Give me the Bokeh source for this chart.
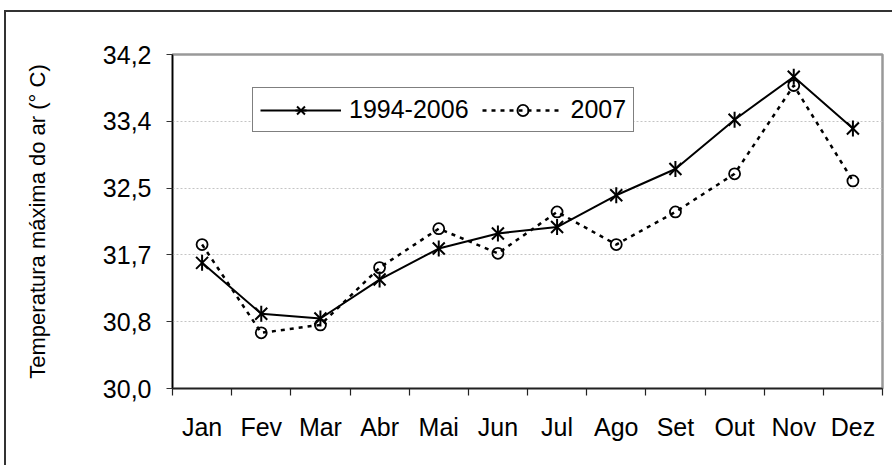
import math
from bokeh.plotting import figure
from bokeh.models import Range1d, FixedTicker, CustomJSTickFormatter
from bokeh.embed import file_html
from bokeh.resources import INLINE

months = ["Jan", "Fev", "Mar", "Abr", "Mai", "Jun", "Jul", "Ago", "Set", "Out", "Nov", "Dez"]
normal_1994_2006 = [31.58, 30.94, 30.88, 31.37, 31.76, 31.95, 32.03, 32.43, 32.76, 33.38, 33.92, 33.27]
year_2007 = [31.81, 30.70, 30.80, 31.52, 32.01, 31.70, 32.22, 31.81, 32.22, 32.70, 33.81, 32.61]
y_ticks = [30.0, 30.84, 31.68, 32.52, 33.36, 34.2]
y_label = "Temperatura máxima do ar (° C)"

x_pos = list(range(1, len(months) + 1))
x_bounds = [i - 0.5 for i in x_pos] + [len(months) + 0.5]

FONT = "Liberation Sans"

p = figure(width=888, height=455,
           x_range=Range1d(0.5, len(months) + 0.5),
           y_range=Range1d(y_ticks[0], y_ticks[-1]),
           output_backend="svg", toolbar_location=None,
           min_border_left=166, min_border_right=12,
           min_border_top=42, min_border_bottom=79)
p.styles = {"box-shadow": "-2px -2px 0px 0px #333333",
            "margin-top": "12px", "margin-left": "6px"}

p.background_fill_color = "white"
p.border_fill_color = "white"
p.outline_line_color = "#999999"
p.outline_line_width = 2.5

# grid
p.xgrid.visible = False
p.ygrid.grid_line_color = "#c4c4c4"
p.ygrid.grid_line_dash = "2 2"
p.ygrid.grid_line_width = 1

# x axis
xa = p.below[0]
xa.ticker = FixedTicker(ticks=x_pos, minor_ticks=x_bounds)
xa.major_label_overrides = dict(zip(x_pos, months))
xa.major_tick_line_color = None
xa.major_tick_out = 0
xa.major_tick_in = 0
xa.minor_tick_out = 7
xa.minor_tick_in = 0
xa.minor_tick_line_color = "#222222"
xa.minor_tick_line_width = 1.2
xa.axis_line_color = "#222222"
xa.axis_line_width = 1.5
xa.major_label_standoff = 17
xa.major_label_text_font = FONT
xa.major_label_text_font_size = "25px"
xa.major_label_text_color = "black"

# y axis
ya = p.left[0]
ya.ticker = FixedTicker(ticks=y_ticks)
ya.formatter = CustomJSTickFormatter(code="return tick.toFixed(1).replace('.', ',');")
ya.major_tick_out = 6
ya.major_tick_in = 0
ya.minor_tick_line_color = None
ya.major_tick_line_color = "#333333"
ya.axis_line_color = "black"
ya.axis_line_width = 1.5
ya.major_label_standoff = 15
ya.major_label_text_font = FONT
ya.major_label_text_font_size = "25px"
ya.major_label_text_color = "black"
ya.axis_label = y_label
ya.axis_label_text_font = FONT
ya.axis_label_text_font_size = "22px"
ya.axis_label_text_font_style = "normal"
ya.axis_label_text_color = "black"
ya.axis_label_standoff = 50

# series 1994-2006
lab1 = "1994-2006"
p.line(x_pos, normal_1994_2006, line_color="black", line_width=2, legend_label=lab1)
p.scatter(x_pos, normal_1994_2006, marker="x", size=17, line_color="black", line_width=2, legend_label=lab1)
p.scatter(x_pos, normal_1994_2006, marker="dash", angle=math.pi / 2, size=16, line_color="black", line_width=2, legend_label=lab1)

# series 2007
lab2 = "2007"
p.line(x_pos, year_2007, line_color="black", line_width=2.5, line_dash="4 5", legend_label=lab2)
p.scatter(x_pos, year_2007, marker="circle", size=11, line_color="black", line_width=1.8, fill_color=None, legend_label=lab2)

lg = p.legend[0]
lg.location = (80, 256)
lg.orientation = "horizontal"
lg.border_line_color = "black"
lg.border_line_width = 1
lg.background_fill_color = "white"
lg.background_fill_alpha = 1
lg.padding = 7
lg.margin = 0
lg.spacing = 13
lg.label_standoff = 8
lg.glyph_width = 81
lg.glyph_height = 28
lg.label_text_font = FONT
lg.label_text_font_size = "25px"
lg.label_text_color = "black"

open("out.html", "w").write(file_html(p, INLINE))
